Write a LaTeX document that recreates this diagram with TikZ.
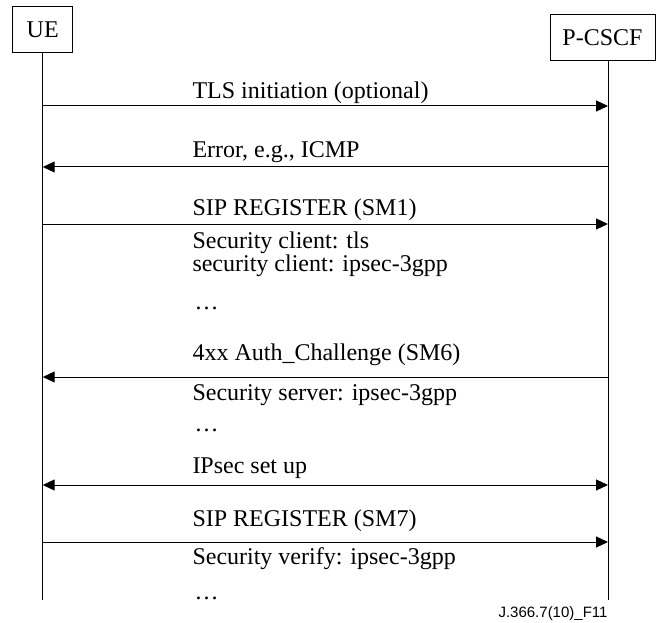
\documentclass[tikz,border=0pt]{standalone}
\usepackage{fontspec}
\setmainfont{Liberation Serif}
\newfontfamily\labelfont{Liberation Sans}
\usetikzlibrary{arrows.meta}

\begin{document}
\begin{tikzpicture}[x=1bp, y=-1bp, line width=1bp,
entity_style/.style={draw=black, inner sep=0pt, minimum height=45.5bp, font=\fontsize{24bp}{28bp}\selectfont},
msg_style/.style={anchor=base west, inner sep=0pt, font=\fontsize{24bp}{28bp}\selectfont},
edge_style/.style={draw=black, line width=1bp},
right_tip/.style={-{Triangle[length=12bp,width=11bp]}},
both_tip/.style={{Triangle[length=12bp,width=11bp]}-{Triangle[length=12bp,width=11bp]}}]
\useasboundingbox (0,0) rectangle (656,623);

% entities and lifelines
\node[entity_style, minimum width=60bp] (ue) at (42.7,29.5) {UE};
\node[entity_style, minimum width=105bp] (pcscf) at (602.5,37.5) {P-CSCF};
\coordinate (ue_end) at (42.7,600);
\coordinate (pc_end) at (608,600);
\draw[edge_style] (ue) -- (ue_end);
\draw[edge_style] (pcscf.south -| pc_end) -- (pc_end);

% message end points
\coordinate (ue_tls) at (42.7,106);  \coordinate (pc_tls) at (608,106);
\coordinate (ue_err) at (42.7,167);  \coordinate (pc_err) at (608,167);
\coordinate (ue_reg1) at (42.7,224); \coordinate (pc_reg1) at (608,224);
\coordinate (ue_auth) at (42.7,377); \coordinate (pc_auth) at (608,377);
\coordinate (ue_ips) at (42.7,485);  \coordinate (pc_ips) at (608,485);
\coordinate (ue_reg2) at (42.7,542); \coordinate (pc_reg2) at (608,542);

\draw[edge_style, right_tip] (ue_tls) -- (pc_tls);
\draw[edge_style, right_tip] (pc_err) -- (ue_err);
\draw[edge_style, right_tip] (ue_reg1) -- (pc_reg1);
\draw[edge_style, right_tip] (pc_auth) -- (ue_auth);
\draw[edge_style, both_tip] (ue_ips) -- (pc_ips);
\draw[edge_style, right_tip] (ue_reg2) -- (pc_reg2);

% labels
\node[msg_style] (tls_lbl) at (192,99) {TLS initiation (optional)};
\node[msg_style] (err_lbl) at (192,158) {Error, e.g., ICMP};
\node[msg_style] (reg1_lbl) at (192,215) {SIP REGISTER (SM1)};
\node[msg_style] (cli1_lbl) at (192,248) {Security client: tls};
\node[msg_style] (cli2_lbl) at (192,271) {security client: ipsec-3gpp};
\node[msg_style] (dots1) at (194,309) {\ldots};
\node[msg_style] (auth_lbl) at (192,360) {4xx Auth\_Challenge (SM6)};
\node[msg_style] (srv_lbl) at (192,400) {Security server: ipsec-3gpp};
\node[msg_style] (dots2) at (194,431) {\ldots};
\node[msg_style] (ips_lbl) at (192,473) {IPsec set up};
\node[msg_style] (reg2_lbl) at (192,526) {SIP REGISTER (SM7)};
\node[msg_style] (ver_lbl) at (192,564) {Security verify: ipsec-3gpp};
\node[msg_style] (dots3) at (194,599) {\ldots};
\node[anchor=base east, inner sep=0pt, font=\labelfont\fontsize{15bp}{18bp}\selectfont] (fig_lbl) at (608,617) {J.366.7(10)\_F11};

\end{tikzpicture}
\end{document}
